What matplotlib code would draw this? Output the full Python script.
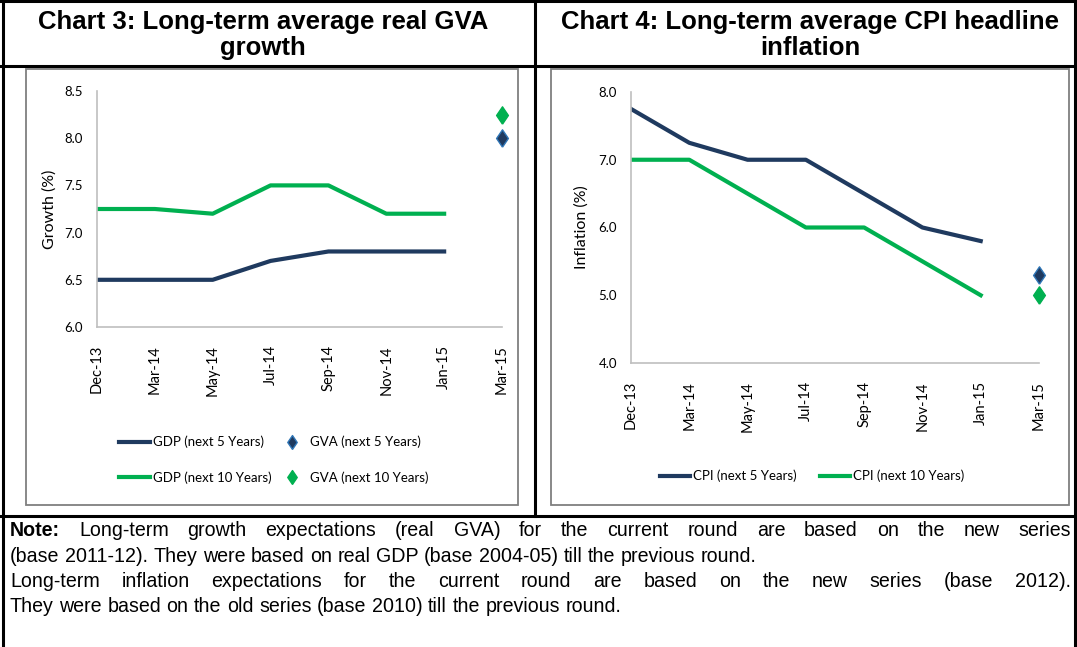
import matplotlib
matplotlib.use("Agg")
import matplotlib.pyplot as plt
from matplotlib.lines import Line2D
from matplotlib.patches import Rectangle

# data
months = ["Dec-13", "Mar-14", "May-14", "Jul-14", "Sep-14", "Nov-14", "Jan-15", "Mar-15"]
gdp_5y = [6.5, 6.5, 6.5, 6.7, 6.8, 6.8, 6.8]
gdp_10y = [7.25, 7.25, 7.2, 7.5, 7.5, 7.2, 7.2]
gva_5y = [8.0]
gva_10y = [8.25]
cpi_5y = [7.75, 7.25, 7.0, 7.0, 6.5, 6.0, 5.8]
cpi_10y = [7.0, 7.0, 6.5, 6.0, 6.0, 5.5, 5.0]
cpi_new_5y = [5.3]
cpi_new_10y = [5.0]

NAVY = "#1F3A5F"
GREEN = "#00B050"
BLUE_EDGE = "#2E75B6"
W, H = 1077, 647
DIAMOND = [(0, -1), (0.68, 0), (0, 1), (-0.68, 0), (0, -1)]

fig = plt.figure(figsize=(W / 100, H / 100), dpi=100)


def fx(px):
    return px / W


def fy(py):
    return 1 - py / H


def hline(y, x0, x1, lw=2.2, c="black"):
    fig.add_artist(Line2D([fx(x0), fx(x1)], [fy(y), fy(y)], color=c, lw=lw))


def vline(x, y0, y1, lw=2.2, c="black"):
    fig.add_artist(Line2D([fx(x), fx(x)], [fy(y0), fy(y1)], color=c, lw=lw))


# table grid
vline(3, 0, H)
vline(1075, 0, H)
hline(1, 0, W)
hline(66, 0, W)
hline(516, 0, W)
vline(535, 0, 516)

# chart frames
for x0, x1 in [(26, 518), (551, 1069)]:
    fig.add_artist(Rectangle((fx(x0), fy(505)), fx(x1 - x0), (505 - 69) / H,
                             fill=False, ec="#7F7F7F", lw=1.3))

# titles
fig.text(fx(263), fy(35), "Chart 3: Long-term average real GVA\ngrowth", ha="center", va="center",
         fontsize=18.5, fontweight="bold", family="Liberation Sans", linespacing=1.12)
fig.text(fx(810), fy(35), "Chart 4: Long-term average CPI headline\ninflation", ha="center", va="center",
         fontsize=18.5, fontweight="bold", family="Liberation Sans", linespacing=1.12)

tick_font = "Lato"
x = list(range(len(months)))


def style(ax, ylab):
    for s in ["top", "right"]:
        ax.spines[s].set_visible(False)
    for s in ["left", "bottom"]:
        ax.spines[s].set_color("#BFBFBF")
        ax.spines[s].set_linewidth(1.2)
    ax.set_xlim(0, 7)
    ax.set_xticks(x)
    ax.set_xticklabels(months, rotation=90, fontsize=10.5, family=tick_font)
    ax.tick_params(length=0)
    ax.tick_params(axis="x", pad=13)
    ax.tick_params(axis="y", pad=10)
    for lab in ax.get_yticklabels():
        lab.set_fontsize(9.5)
        lab.set_family(tick_font)
    ax.set_ylabel(ylab, fontsize=11.5, family=tick_font)
    ax.patch.set_alpha(0)


# chart 3
ax1 = fig.add_axes([fx(97), fy(327), fx(502 - 97), (327 - 91) / H])
ax1.plot(x[:7], gdp_5y, color=NAVY, lw=3, label="GDP (next 5 Years)")
ax1.plot(x[:7], gdp_10y, color=GREEN, lw=3, label="GDP (next 10 Years)")
ax1.plot(x[7:], gva_5y, ls="none", marker=DIAMOND, ms=12.5, mfc=NAVY, mec=BLUE_EDGE, mew=1,
         clip_on=False, label="GVA (next 5 Years)")
ax1.plot(x[7:], gva_10y, ls="none", marker=DIAMOND, ms=12.5, mfc=GREEN, mec=GREEN, mew=1,
         clip_on=False, label="GVA (next 10 Years)")
ax1.set_ylim(6.0, 8.5)
ax1.set_yticks([6.0, 6.5, 7.0, 7.5, 8.0, 8.5])
ax1.set_yticklabels(["%.1f" % v for v in [6.0, 6.5, 7.0, 7.5, 8.0, 8.5]])
style(ax1, "Growth (%)")
ax1.yaxis.set_label_coords((57 - 97) / 405, 0.5)
ax1.legend(ncol=2, loc="center", bbox_to_anchor=(fx(274), fy(460)), bbox_transform=fig.transFigure,
           frameon=False, prop={"family": tick_font, "size": 9.5}, handlelength=2.3,
           handletextpad=0.25, columnspacing=0.4, labelspacing=1.75, markerscale=0.8)

# chart 4
ax2 = fig.add_axes([fx(631), fy(363), fx(1039 - 631), (363 - 92) / H])
ax2.plot(x[:7], cpi_5y, color=NAVY, lw=3, label="CPI (next 5 Years)")
ax2.plot(x[:7], cpi_10y, color=GREEN, lw=3, label="CPI (next 10 Years)")
ax2.plot(x[7:], cpi_new_5y, ls="none", marker=DIAMOND, ms=12.5, mfc=NAVY, mec=BLUE_EDGE, mew=1, clip_on=False)
ax2.plot(x[7:], cpi_new_10y, ls="none", marker=DIAMOND, ms=12.5, mfc=GREEN, mec=GREEN, mew=1, clip_on=False)
ax2.set_ylim(4.0, 8.0)
ax2.set_yticks([4.0, 5.0, 6.0, 7.0, 8.0])
ax2.set_yticklabels(["%.1f" % v for v in [4.0, 5.0, 6.0, 7.0, 8.0]])
style(ax2, "Inflation (%)")
ax2.yaxis.set_label_coords((589 - 631) / 408, 0.5)
ax2.legend(ncol=2, loc="center", bbox_to_anchor=(fx(812), fy(476)), bbox_transform=fig.transFigure,
           frameon=False, prop={"family": tick_font, "size": 9.5}, handlelength=2.3,
           handletextpad=0.2, columnspacing=1.8)

# note, justified where the source is justified
note_lines = [
    ("Long-term growth expectations (real GVA) for the current round are based on the new series", True),
    ("(base 2011-12). They were based on real GDP (base 2004-05) till the previous round.", False),
    ("Long-term inflation expectations for the current round are based on the new series (base 2012).", True),
    ("They were based on the old series (base 2010) till the previous round.", False),
]
renderer = fig.canvas.get_renderer()
left_px, right_px = 10, 1071
note_fs = 14.1


def width_px(s, weight="normal"):
    t = fig.text(0, 0, s, fontsize=note_fs, family="Liberation Sans", fontweight=weight)
    w = t.get_window_extent(renderer).width
    t.remove()
    return w


space_px = width_px("a a") - 2 * width_px("a")
for i, (line, justify) in enumerate(note_lines):
    y = fy(531 + i * 25.3)
    words = line.split(" ")
    weights = ["normal"] * len(words)
    if i == 0:
        words = ["Note:"] + words
        weights = ["bold"] + weights
    widths = [width_px(w, wt) for w, wt in zip(words, weights)]
    gap = space_px
    if justify:
        gap = (right_px - left_px - sum(widths)) / (len(words) - 1)
    pos = left_px
    for w, wt, wd in zip(words, weights, widths):
        fig.text(fx(pos), y, w, fontsize=note_fs, family="Liberation Sans", fontweight=wt, va="center")
        pos += wd + gap

fig.savefig("out.png", dpi=100)
